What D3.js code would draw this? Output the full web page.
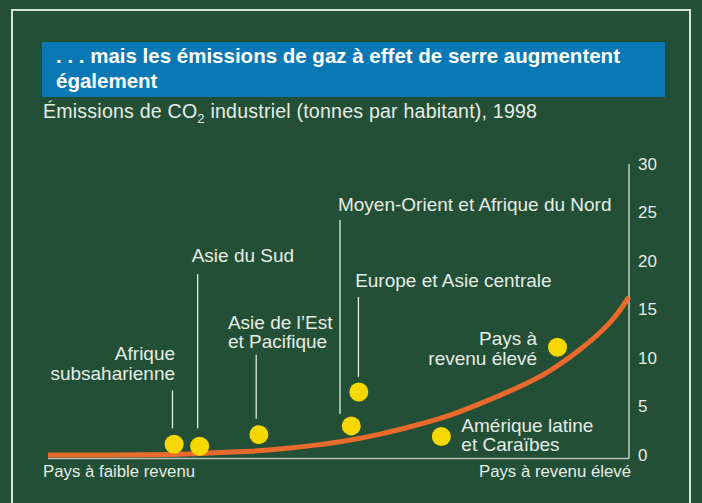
<!DOCTYPE html>
<html lang="fr">
<head>
<meta charset="utf-8">
<title>Émissions de CO2 industriel par habitant, 1998</title>
<script src="https://cdn.jsdelivr.net/npm/d3@7/dist/d3.min.js"></script>
<style>
  html, body { margin: 0; padding: 0; background: #224f35; }
  svg { display: block; font-family: "Liberation Sans", Arial, sans-serif; }
</style>
</head>
<body>
<svg id="chart" width="702" height="503"></svg>
<script>
// Regions, ordered along the income axis (0 = low income, 100 = high income)
const regions = [
  "Afrique subsaharienne",
  "Asie du Sud",
  "Asie de l’Est et Pacifique",
  "Moyen-Orient et Afrique du Nord",
  "Europe et Asie centrale",
  "Amérique latine et Caraïbes",
  "Pays à revenu élevé"
];
const regionIncomePos = [21.7, 26.1, 36.3, 52.2, 53.5, 67.7, 87.7];
// Industrial CO2 emissions, tonnes per inhabitant, 1998
const regionEmissions = [1.1, 0.9, 2.1, 3.0, 6.5, 1.9, 11.1];

// Trend of emissions against income
const trendIncomePos = [0, 18, 26, 36, 40, 46, 52, 57, 63, 69, 74, 80, 86, 92, 97, 100];
const trendEmissions = [0, 0, 0.15, 0.4, 0.6, 1.0, 1.5, 2.1, 3.0, 4.0, 5.2, 6.7, 8.4, 11.0, 13.6, 16.3];

const yTicks = [0, 5, 10, 15, 20, 25, 30];
const xEndLabels = ["Pays à faible revenu", "Pays à revenu élevé"];

const titleLines = [". . . mais les émissions de gaz à effet de serre augmentent", "également"];

// Hand placement of each region label and its leader line, relative to its dot
const labelLayout = [
  { lines: ["Afrique", "subsaharienne"], anchor: "end",   dx: 1,   dy: -84,  lh: 19.3, leader: { dx: -1.6, top: -54,  gap: 16 } },
  { lines: ["Asie du Sud"],              anchor: "start", dx: -8,  dy: -184, lh: 19,   leader: { dx: -2,   top: -172, gap: 18 } },
  { lines: ["Asie de l’Est", "et Pacifique"], anchor: "start", dx: -31, dy: -106, lh: 19.4, leader: { dx: -2.7, top: -80, gap: 16 } },
  { lines: ["Moyen-Orient et Afrique du Nord"], anchor: "start", dx: -13.3, dy: -215, lh: 19, leader: { dx: -11.3, top: -206, gap: 12 } },
  { lines: ["Europe et Asie centrale"],  anchor: "start", dx: -3.7, dy: -105, lh: 19,  leader: { dx: -0.4, top: -95,  gap: 15 } },
  { lines: ["Amérique latine", "et Caraïbes"], anchor: "start", dx: 20, dy: -4.5, lh: 19.2, leader: null },
  { lines: ["Pays à", "revenu élevé"],   anchor: "end",   dx: -20.4, dy: -2, lh: 19.2, leader: null }
];

const C = {
  bg: "#224f35",
  frame: "#d9e2da",
  title: "#0a78b5",
  text: "#e6ede7",
  axis: "#b8c2ba",
  trend: "#ea6a2d",
  dot: "#f7d700"
};

const svg = d3.select("#chart");
svg.append("rect").attr("width", 702).attr("height", 503).attr("fill", C.bg);

// Open-bottomed frame
svg.append("path")
  .attr("d", "M12,503V10H690V503")
  .attr("fill", "none")
  .attr("stroke", C.frame)
  .attr("stroke-width", 2);

// Title banner
svg.append("rect")
  .attr("x", 42).attr("y", 42).attr("width", 623).attr("height", 55)
  .attr("fill", C.title);
svg.append("text")
  .attr("x", 56).attr("y", 63.3)
  .attr("fill", "#ffffff")
  .attr("font-weight", "bold")
  .attr("font-size", 20.5)
  .selectAll("tspan").data(titleLines).join("tspan")
  .attr("x", 56).attr("dy", (d, i) => i === 0 ? 0 : 25)
  .text(d => d);

// Subtitle with subscript
const sub = svg.append("text")
  .attr("x", 43).attr("y", 118.3)
  .attr("fill", C.text)
  .attr("font-size", 19.6)
  .attr("letter-spacing", 0.2);
sub.append("tspan").text("Émissions de CO");
sub.append("tspan").attr("font-size", 13).attr("dy", 5).text("2");
sub.append("tspan").attr("dy", -5).text(" industriel (tonnes par habitant), 1998");

// Scales
const x = d3.scaleLinear().domain([0, 100]).range([48, 629]);
const y = d3.scaleLinear().domain([0, 30]).range([455, 164]);
const baseY = y(0) + 3.5;

// Plot frame: baseline and right-hand value axis
svg.append("line")
  .attr("x1", x(0)).attr("x2", x(100))
  .attr("y1", baseY).attr("y2", baseY)
  .attr("stroke", C.axis).attr("stroke-width", 1.6);

const yAxis = d3.axisRight(y)
  .tickValues(yTicks)
  .tickSize(0)
  .tickPadding(9)
  .tickFormat(d3.format("d"));

const yAxisG = svg.append("g")
  .attr("transform", `translate(${x(100)},0)`)
  .call(yAxis);
yAxisG.select(".domain").remove();
yAxisG.selectAll("text")
  .attr("fill", C.text)
  .attr("font-size", 17)
  .attr("font-family", "\"Liberation Sans\", Arial, sans-serif");
svg.append("line")
  .attr("x1", x(100)).attr("x2", x(100))
  .attr("y1", y(30)).attr("y2", baseY)
  .attr("stroke", C.axis).attr("stroke-width", 1.6);

// End labels of the income axis
svg.append("text")
  .attr("x", 43).attr("y", 477.3)
  .attr("fill", C.text).attr("font-size", 16.8)
  .text(xEndLabels[0]);
svg.append("text")
  .attr("x", 631).attr("y", 477.3)
  .attr("text-anchor", "end")
  .attr("fill", C.text).attr("font-size", 16.8)
  .text(xEndLabels[1]);

// Trend curve, smoothed through the read-off points
const trend = trendIncomePos.map((p, i) => [p, trendEmissions[i]]);
svg.append("path")
  .datum(trend)
  .attr("fill", "none")
  .attr("stroke", C.trend)
  .attr("stroke-width", 5)
  .attr("d", d3.line().x(d => x(d[0])).y(d => y(d[1])).curve(d3.curveBasis));

// Region dots, leader lines and labels
const pts = regions.map((name, i) => ({
  name,
  cx: x(regionIncomePos[i]),
  cy: y(regionEmissions[i]),
  layout: labelLayout[i]
}));

const R = 9.5;

svg.append("g").selectAll("line")
  .data(pts.filter(d => d.layout.leader))
  .join("line")
  .attr("x1", d => d.cx + d.layout.leader.dx)
  .attr("x2", d => d.cx + d.layout.leader.dx)
  .attr("y1", d => d.cy + d.layout.leader.top)
  .attr("y2", d => d.cy - d.layout.leader.gap)
  .attr("stroke", C.text)
  .attr("stroke-width", 1.3);

svg.append("g").selectAll("circle")
  .data(pts)
  .join("circle")
  .attr("cx", d => d.cx)
  .attr("cy", d => d.cy)
  .attr("r", R)
  .attr("fill", C.dot);

const labels = svg.append("g").selectAll("text")
  .data(pts)
  .join("text")
  .attr("fill", C.text)
  .attr("font-size", 19)
  .attr("text-anchor", d => d.layout.anchor)
  .attr("x", d => d.cx + d.layout.dx)
  .attr("y", d => d.cy + d.layout.dy);

labels.selectAll("tspan")
  .data(d => d.layout.lines.map((t, i) => ({ t, i, d })))
  .join("tspan")
  .attr("x", o => o.d.cx + o.d.layout.dx)
  .attr("dy", o => o.i === 0 ? 0 : o.d.layout.lh)
  .text(o => o.t);
</script>
</body>
</html>
